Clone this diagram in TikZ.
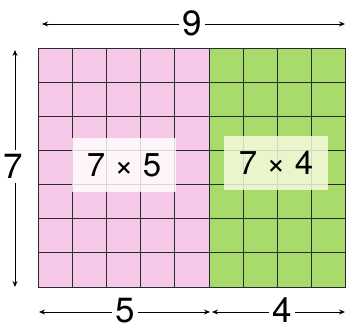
\documentclass[tikz,border=0pt]{standalone}
\usepackage{fontspec}
\setmainfont{TeX Gyre Heros}
\usetikzlibrary{arrows.meta}
\definecolor{pinkc}{HTML}{F6C8E8}
\definecolor{greenc}{HTML}{A8DA6C}
\definecolor{gridc}{HTML}{2A2A2A}
\tikzset{
  dimarrow/.style={{Stealth[length=6pt,width=5pt]}-{Stealth[length=6pt,width=5pt]}, line width=0.8pt, black},
  biglabel/.style={font=\fontsize{35}{35}\selectfont, fill=white, inner xsep=3pt, inner ysep=0pt, text height=25pt, text depth=0pt},
  prodbox/.style={font=\fontsize{33}{33}\selectfont, fill opacity=0.82, text opacity=1, minimum width=104pt, minimum height=54pt, inner sep=0pt},
}
\begin{document}
\begin{tikzpicture}[x=1pt,y=-1pt]
\useasboundingbox (0,0) rectangle (347,329);
% cells
\fill[pinkc] (38,48) rectangle (209,287);
\fill[greenc] (209,48) rectangle (346,287);
\foreach \i in {0,...,9} \draw[gridc, line width=1pt] ({38+34.2*\i},48) -- ({38+34.2*\i},287);
\foreach \j in {0,...,7} \draw[gridc, line width=1pt] (38,{48+34.143*\j}) -- (345.8,{48+34.143*\j});
% product boxes
\node[prodbox, fill=white] (p1) at (124,165) {7 × 5};
\node[prodbox, fill={rgb,255:red,250;green,252;blue,225}] (p2) at (276,163) {7 × 4};
% top dimension
\coordinate (t1) at (42,24);
\coordinate (t2) at (345,24);
\draw[dimarrow] (t1) -- (t2);
\node[biglabel] (n9) at (192,23) {9};
% left dimension
\coordinate (l1) at (15,50);
\coordinate (l2) at (15,287);
\draw[dimarrow] (l1) -- (l2);
\node[biglabel, inner ysep=4pt] (n7) at (13,166) {7};
% bottom dimensions
\coordinate (b1) at (39,312);
\coordinate (b2) at (210,312);
\coordinate (b3) at (212,312);
\coordinate (b4) at (345,312);
\draw[dimarrow] (b1) -- (b2);
\draw[dimarrow] (b3) -- (b4);
\node[biglabel] (n5) at (125,310) {5};
\node[biglabel] (n4) at (282,310) {4};
\end{tikzpicture}
\end{document}
